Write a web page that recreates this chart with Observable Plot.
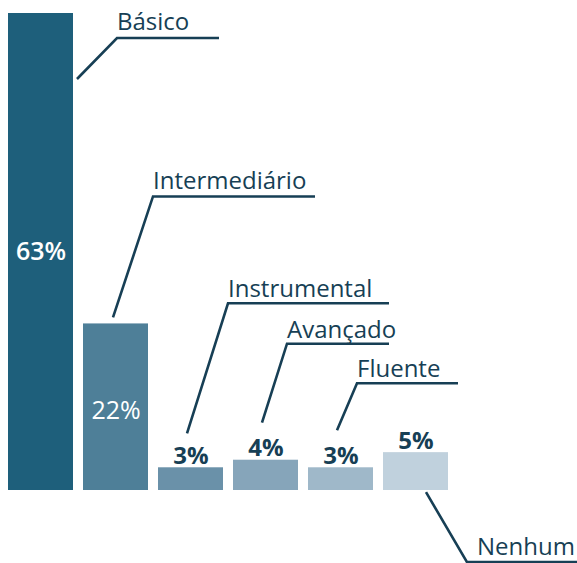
<!DOCTYPE html>
<html><head><meta charset="utf-8">
<script src="https://cdn.jsdelivr.net/npm/d3@7"></script>
<script src="https://cdn.jsdelivr.net/npm/@observablehq/plot@0.6"></script>
<style>body{margin:0;background:#fff}</style>
</head><body><div id="chart"></div>
<script>
const categories = ["Básico","Intermediário","Instrumental","Avançado","Fluente","Nenhum"];
const values = [63,22,3,4,3,5];
const valueLabels = ["63%","22%","3%","4%","3%","5%"];
const colors = ["#1e5f7b","#4e7f98","#6a91a9","#86a5ba","#9fb8c9","#c0d1dd"];

const data = categories.map((c,i)=>({category:c, value:values[i], label:valueLabels[i]}));
const insideBig = data.filter(d=>d.value>=40);
const insideMid = data.filter(d=>d.value>=10 && d.value<40);
const outside = data.filter(d=>d.value<10);
const ink = "#173f55";

// leader layout: offsets (px) from bar center / bar top
const leaderLayout = {
  "Básico":        {s:[36.5,66],  k:[76.5,25],   e:178.5, t:[0,-8]},
  "Intermediário": {s:[-2.5,-6],  k:[37.5,-127], e:199.5, t:[0,-7]},
  "Instrumental":  {s:[-3.5,-34], k:[37.5,-164], e:198.5, t:[0,-6]},
  "Avançado":      {s:[-3.5,-37], k:[21.5,-116], e:123.5, t:[0,-6]},
  "Fluente":       {s:[-3.5,-37], k:[16.5,-84],  e:117.5, t:[0,-6]},
  "Nenhum":        {s:[10.5,40],  k:[51.5,110],  e:200,   t:[10,-7]}
};

const leaders = (index, scales) => {
  const x = scales.x, y = scales.y;
  const bw = x.bandwidth ? x.bandwidth() : 65;
  const g = d3.create("svg:g");
  data.forEach(d => {
    const L = leaderLayout[d.category];
    const xc = x(d.category) + bw/2, yt = y(d.value);
    const pts = [[xc+L.s[0], yt+L.s[1]], [xc+L.k[0], yt+L.k[1]], [xc+L.e, yt+L.k[1]]];
    g.append("path").attr("d", d3.line()(pts))
      .attr("fill","none").attr("stroke",ink).attr("stroke-width",2.6);
    g.append("text").attr("x", xc+L.k[0]+L.t[0]).attr("y", yt+L.k[1]+L.t[1])
      .attr("text-anchor","start")
      .attr("fill",ink).attr("font-size",24).attr("font-family","'Open Sans', sans-serif")
      .text(d.category);
  });
  return g.node();
};

const chart = Plot.plot({
  width:577, height:563, margin:0,
  style:{fontFamily:"'Open Sans', sans-serif", background:"#fff", overflow:"visible"},
  x:{type:"band", domain:categories, range:[8,448], paddingInner:10/75, paddingOuter:0, axis:null},
  y:{domain:[0,63], range:[490,13], axis:null},
  color:{type:"ordinal", domain:categories, range:colors},
  marks:[
    Plot.barY(data,{x:"category", y:"value", fill:"category"}),
    Plot.text(insideBig,{x:"category", y:d=>d.value/2, text:"label", fill:"white", fontSize:25, fontWeight:600}),
    Plot.text(insideMid,{x:"category", y:d=>d.value/2, text:"label", fill:"white", fontSize:25, fontWeight:400, dy:4}),
    Plot.text(outside,{x:"category", y:"value", text:"label", fill:ink, fontSize:24, fontWeight:700, lineAnchor:"bottom", dy:-4}),
    leaders
  ]
});
document.getElementById("chart").append(chart);
</script>
</body></html>
